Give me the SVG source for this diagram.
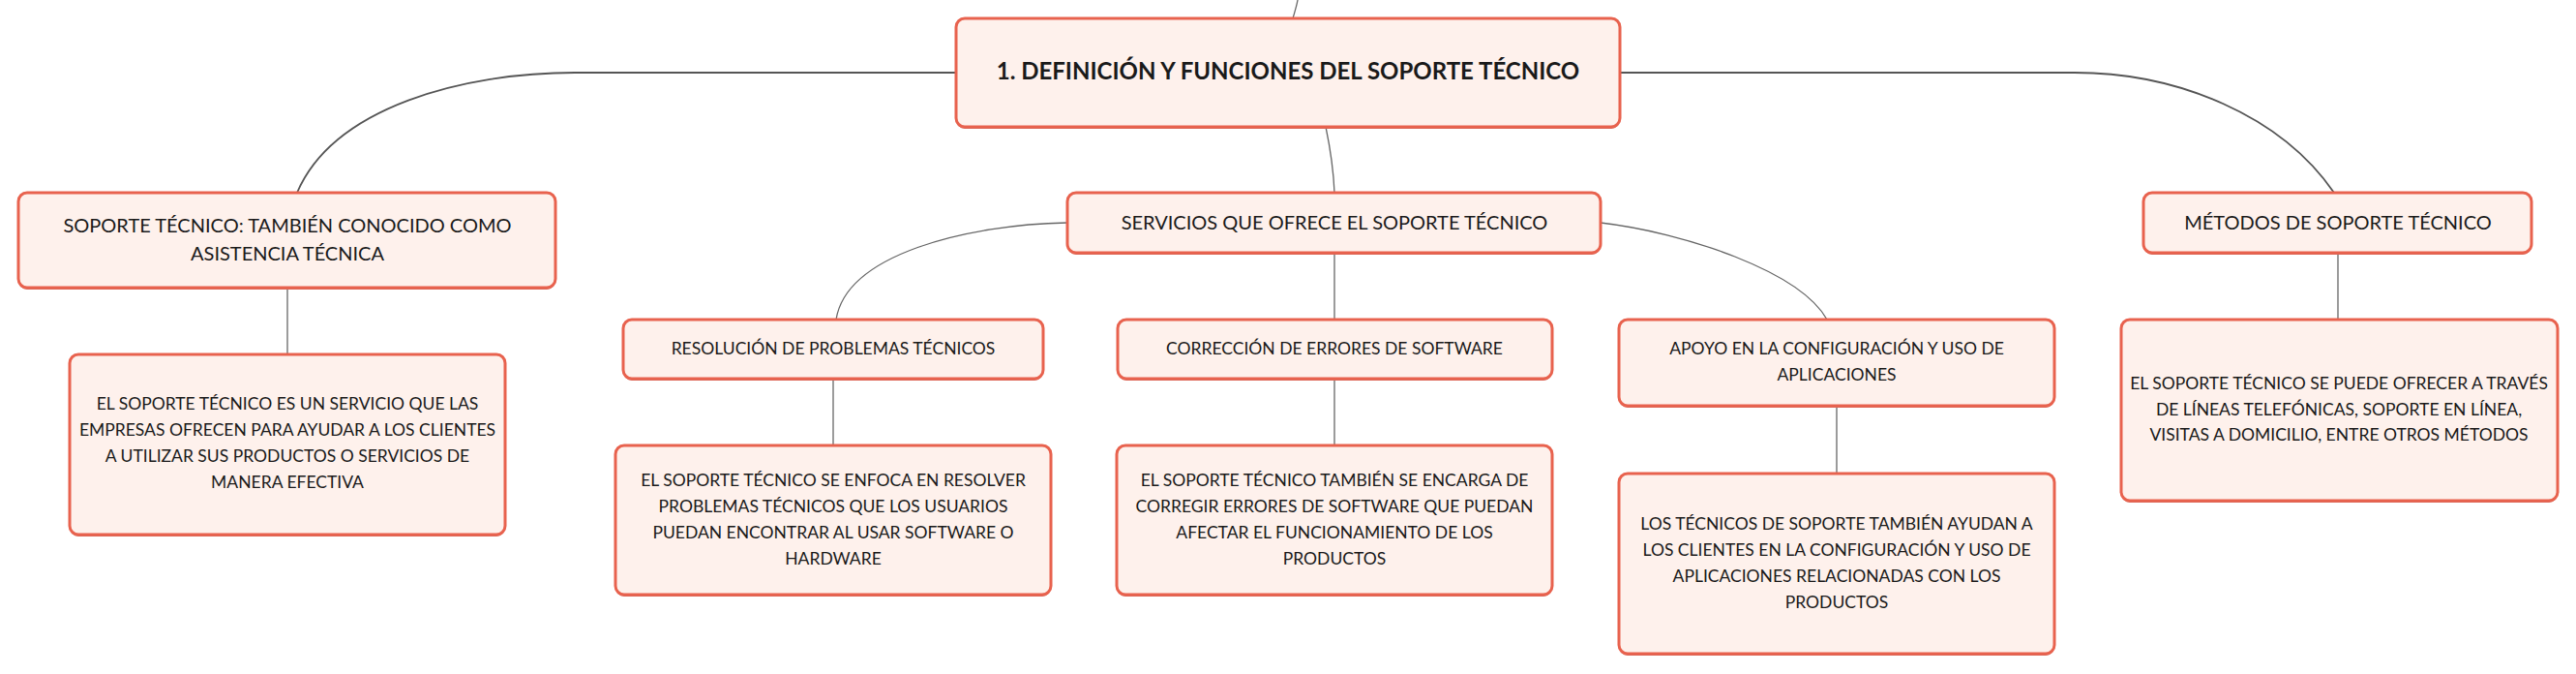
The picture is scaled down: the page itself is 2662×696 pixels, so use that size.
<svg xmlns="http://www.w3.org/2000/svg" width="2662" height="696" viewBox="0 0 2662 696">
<style>
.box{fill:#FEF1EC;stroke:#E8624E;stroke-width:3}
.sh{fill:#D26B5E}
.t{font-family:Lato,"Liberation Sans",sans-serif;fill:#1a1a1a;text-anchor:middle}
.t0{font-size:24px;font-weight:bold}
.t1{font-size:20px}
.t2{font-size:17.5px}
.c{fill:none;stroke:#666;stroke-width:1.3}
.cm{fill:none;stroke:#555;stroke-width:1.8}
</style>
<rect width="2662" height="696" fill="#fff"/>
<g id="connectors">
<path class="c" d="M1336,19 C1338,12 1340,6 1341,0"/>
<path class="cm" d="M988,75 L594,75 C480,75 345,110 307,199"/>
<path class="cm" d="M1674,75 L2144,75 C2250,75 2357,119 2412,199"/>
<path class="c" d="M1370,131 C1374,150 1378,175 1379,199"/>
<path class="c" d="M1103,230 C1000,232 875,262 864,330"/>
<path class="c" d="M1654,230 C1740,240 1860,280 1888,330"/>
<path class="c" d="M297,297 L297,366"/>
<path class="c" d="M861,391 L861,460"/>
<path class="c" d="M1379,261 L1379,330"/>
<path class="c" d="M1379,391 L1379,460"/>
<path class="c" d="M1898,419 L1898,489"/>
<path class="c" d="M2416,261 L2416,330"/>
</g>
<g id="main">
<rect class="sh" x="988" y="21" width="686" height="112" rx="9"/>
<rect class="box" x="988" y="19" width="686" height="112" rx="9"/>
<text class="t t0" x="1331" y="82">1. DEFINICIÓN Y FUNCIONES DEL SOPORTE TÉCNICO</text>
</g>
<g id="n-soporte">
<rect class="sh" x="19" y="201" width="555" height="98" rx="9"/>
<rect class="box" x="19" y="199" width="555" height="98" rx="9"/>
<text class="t t1" x="297" y="240">SOPORTE TÉCNICO: TAMBIÉN CONOCIDO COMO</text>
<text class="t t1" x="297" y="269">ASISTENCIA TÉCNICA</text>
</g>
<g id="n-soporte-d">
<rect class="sh" x="72" y="368" width="450" height="186" rx="9"/>
<rect class="box" x="72" y="366" width="450" height="186" rx="9"/>
<text class="t t2" x="297" y="423">EL SOPORTE TÉCNICO ES UN SERVICIO QUE LAS</text>
<text class="t t2" x="297" y="450">EMPRESAS OFRECEN PARA AYUDAR A LOS CLIENTES</text>
<text class="t t2" x="297" y="477">A UTILIZAR SUS PRODUCTOS O SERVICIOS DE</text>
<text class="t t2" x="297" y="504">MANERA EFECTIVA</text>
</g>
<g id="n-servicios">
<rect class="sh" x="1103" y="201" width="551" height="62" rx="9"/>
<rect class="box" x="1103" y="199" width="551" height="62" rx="9"/>
<text class="t t1" x="1379" y="237">SERVICIOS QUE OFRECE EL SOPORTE TÉCNICO</text>
</g>
<g id="n-metodos">
<rect class="sh" x="2215" y="201" width="401" height="62" rx="9"/>
<rect class="box" x="2215" y="199" width="401" height="62" rx="9"/>
<text class="t t1" x="2416" y="237">MÉTODOS DE SOPORTE TÉCNICO</text>
</g>
<g id="n-metodos-d">
<rect class="sh" x="2192" y="332" width="451" height="187" rx="9"/>
<rect class="box" x="2192" y="330" width="451" height="187" rx="9"/>
<text class="t t2" x="2417" y="402">EL SOPORTE TÉCNICO SE PUEDE OFRECER A TRAVÉS</text>
<text class="t t2" x="2417" y="428.5">DE LÍNEAS TELEFÓNICAS, SOPORTE EN LÍNEA,</text>
<text class="t t2" x="2417" y="455">VISITAS A DOMICILIO, ENTRE OTROS MÉTODOS</text>
</g>
<g id="n-resolucion">
<rect class="sh" x="644" y="332" width="434" height="61" rx="9"/>
<rect class="box" x="644" y="330" width="434" height="61" rx="9"/>
<text class="t t2" x="861" y="366">RESOLUCIÓN DE PROBLEMAS TÉCNICOS</text>
</g>
<g id="n-resolucion-d">
<rect class="sh" x="636" y="462" width="450" height="154" rx="9"/>
<rect class="box" x="636" y="460" width="450" height="154" rx="9"/>
<text class="t t2" x="861" y="502">EL SOPORTE TÉCNICO SE ENFOCA EN RESOLVER</text>
<text class="t t2" x="861" y="529">PROBLEMAS TÉCNICOS QUE LOS USUARIOS</text>
<text class="t t2" x="861" y="556">PUEDAN ENCONTRAR AL USAR SOFTWARE O</text>
<text class="t t2" x="861" y="583">HARDWARE</text>
</g>
<g id="n-correccion">
<rect class="sh" x="1155" y="332" width="449" height="61" rx="9"/>
<rect class="box" x="1155" y="330" width="449" height="61" rx="9"/>
<text class="t t2" x="1379" y="366">CORRECCIÓN DE ERRORES DE SOFTWARE</text>
</g>
<g id="n-correccion-d">
<rect class="sh" x="1154" y="462" width="450" height="154" rx="9"/>
<rect class="box" x="1154" y="460" width="450" height="154" rx="9"/>
<text class="t t2" x="1379" y="502">EL SOPORTE TÉCNICO TAMBIÉN SE ENCARGA DE</text>
<text class="t t2" x="1379" y="529">CORREGIR ERRORES DE SOFTWARE QUE PUEDAN</text>
<text class="t t2" x="1379" y="556">AFECTAR EL FUNCIONAMIENTO DE LOS</text>
<text class="t t2" x="1379" y="583">PRODUCTOS</text>
</g>
<g id="n-apoyo">
<rect class="sh" x="1673" y="332" width="450" height="89" rx="9"/>
<rect class="box" x="1673" y="330" width="450" height="89" rx="9"/>
<text class="t t2" x="1898" y="366">APOYO EN LA CONFIGURACIÓN Y USO DE</text>
<text class="t t2" x="1898" y="393">APLICACIONES</text>
</g>
<g id="n-apoyo-d">
<rect class="sh" x="1673" y="491" width="450" height="186" rx="9"/>
<rect class="box" x="1673" y="489" width="450" height="186" rx="9"/>
<text class="t t2" x="1898" y="547">LOS TÉCNICOS DE SOPORTE TAMBIÉN AYUDAN A</text>
<text class="t t2" x="1898" y="574">LOS CLIENTES EN LA CONFIGURACIÓN Y USO DE</text>
<text class="t t2" x="1898" y="601">APLICACIONES RELACIONADAS CON LOS</text>
<text class="t t2" x="1898" y="627.5">PRODUCTOS</text>
</g>
</svg>
